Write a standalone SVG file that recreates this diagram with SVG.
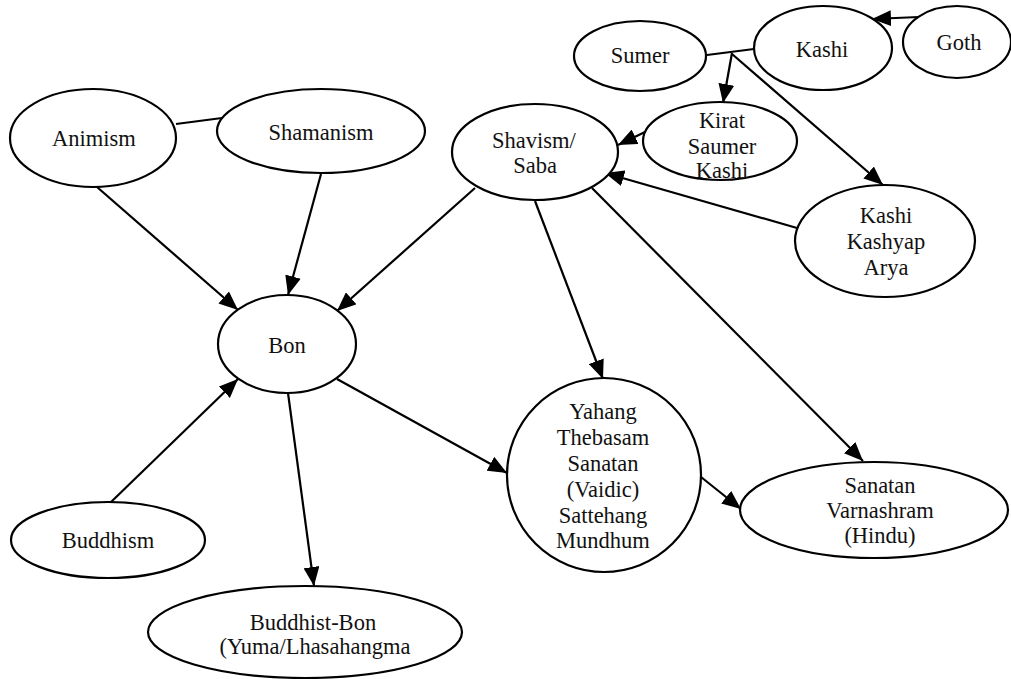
<svg xmlns="http://www.w3.org/2000/svg" width="1011" height="679" viewBox="0 0 1011 679">
<style>
.n ellipse{fill:#fff;stroke:#000;stroke-width:2.2}
.n text{font-family:"Liberation Serif","Times New Roman",serif;font-size:22.5px;fill:#111;text-anchor:middle}
.e line{stroke:#000;stroke-width:2.2;fill:none}
.e line.a{marker-end:url(#ah)}
</style>
<defs>
<marker id="ah" markerUnits="userSpaceOnUse" markerWidth="20" markerHeight="16" refX="19" refY="8" orient="auto">
<path d="M0,0 L19,8 L0,16 z" fill="#000"/>
</marker>
</defs>
<rect width="1011" height="679" fill="#fff"/>
<g id="connectors" class="e">
<line x1="176" y1="124" x2="222" y2="118"/>
<line class="a" x1="97" y1="187" x2="238" y2="310"/>
<line class="a" x1="321" y1="174" x2="288" y2="295"/>
<line class="a" x1="475" y1="188" x2="337" y2="311"/>
<line class="a" x1="110" y1="503" x2="238" y2="379"/>
<line class="a" x1="288" y1="393" x2="314" y2="586"/>
<line class="a" x1="337" y1="379" x2="507" y2="473"/>
<line class="a" x1="535" y1="201" x2="603" y2="379"/>
<line class="a" x1="592" y1="188" x2="863" y2="461"/>
<line class="a" x1="701" y1="477" x2="741" y2="509"/>
<line class="a" x1="645" y1="132" x2="618" y2="145"/>
<line class="a" x1="797" y1="228" x2="605" y2="173"/>
<line x1="707" y1="55" x2="754" y2="49"/>
<line class="a" x1="732" y1="53" x2="723" y2="103"/>
<line class="a" x1="732" y1="54" x2="883" y2="185"/>
<line class="a" x1="919" y1="17" x2="872" y2="19"/>
</g>
<g id="animism" class="n"><ellipse cx="93" cy="138" rx="83" ry="49"/><text x="94" y="146">Animism</text></g>
<g id="shamanism" class="n"><ellipse cx="321" cy="131" rx="104" ry="42"/><text x="321" y="140">Shamanism</text></g>
<g id="shavism" class="n"><ellipse cx="535" cy="152" rx="83" ry="48"/><text x="534" y="148">Shavism/</text><text x="535" y="173">Saba</text></g>
<g id="sumer" class="n"><ellipse cx="640" cy="56" rx="66" ry="35"/><text x="640" y="63">Sumer</text></g>
<g id="kashi" class="n"><ellipse cx="823" cy="48" rx="69" ry="42"/><text x="822" y="57">Kashi</text></g>
<g id="goth" class="n"><ellipse cx="957" cy="42" rx="54" ry="36"/><text x="959" y="50">Goth</text></g>
<g id="kirat" class="n"><ellipse cx="720" cy="141" rx="77" ry="39"/><text x="722" y="128">Kirat</text><text x="722" y="154">Saumer</text><text x="722" y="178">Kashi</text></g>
<g id="kka" class="n"><ellipse cx="885" cy="241" rx="90" ry="56"/><text x="886" y="223">Kashi</text><text x="886" y="249">Kashyap</text><text x="886" y="275">Arya</text></g>
<g id="bon" class="n"><ellipse cx="287" cy="344" rx="69" ry="49"/><text x="287" y="353">Bon</text></g>
<g id="yahang" class="n"><ellipse cx="604" cy="475" rx="97" ry="97"/><text x="603" y="419">Yahang</text><text x="603" y="445">Thebasam</text><text x="603" y="471">Sanatan</text><text x="603" y="497">(Vaidic)</text><text x="603" y="523">Sattehang</text><text x="603" y="548">Mundhum</text></g>
<g id="sanatan" class="n"><ellipse cx="874" cy="510" rx="134" ry="48"/><text x="880" y="493">Sanatan</text><text x="880" y="518">Varnashram</text><text x="880" y="543">(Hindu)</text></g>
<g id="buddhism" class="n"><ellipse cx="108" cy="540" rx="97" ry="38"/><text x="108" y="548">Buddhism</text></g>
<g id="buddhistbon" class="n"><ellipse cx="305" cy="632" rx="157" ry="46"/><text x="313" y="630">Buddhist-Bon</text><text x="315" y="654">(Yuma/Lhasahangma</text></g>
</svg>
